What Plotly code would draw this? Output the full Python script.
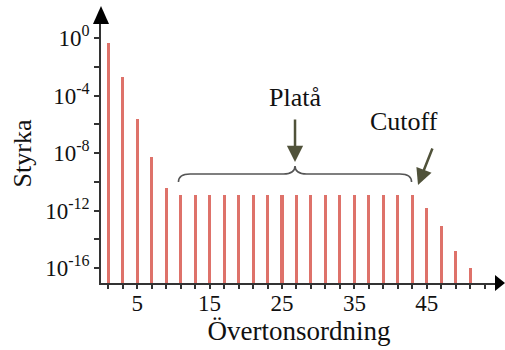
import plotly.graph_objects as go

# Data: harmonic order (odd) and strength
orders = [1, 3, 5, 7, 9, 11, 13, 15, 17, 19, 21, 23, 25, 27, 29, 31, 33, 35, 37, 39, 41, 43, 45, 47, 49, 51]
strength_exp = [-0.35, -2.7, -5.6, -8.3, -10.4,
                -10.9, -10.9, -10.9, -10.9, -10.9, -10.9, -10.9, -10.9, -10.9, -10.9, -10.9,
                -10.9, -10.9, -10.9, -10.9, -10.9, -10.9,
                -11.8, -13.1, -14.8, -16.0]
strength = [10 ** e for e in strength_exp]

x_label_vals = [5, 15, 25, 35, 45]
x_labels = ["5", "15", "25", "35", "45"]
x_minor_vals = list(range(1, 55, 2))
y_label_exps = [0, -4, -8, -12, -16]
y_label_vals = [10 ** e for e in y_label_exps]
y_labels = [f"10<sup>{e}</sup>" for e in y_label_exps]
y_minor_vals = [10 ** e for e in (-2, -6, -10, -14)]

FONT = "Liberation Serif"
W, H = 505, 350
L, R, T, B = 101, 8, 24, 67
PW, PH = W - L - R, H - T - B

def px(x):
    return (x - L) / PW

def py(y):
    return (H - B - y) / PH

fig = go.Figure()
fig.add_trace(go.Bar(
    x=orders, y=strength, width=0.42,
    marker=dict(color="#de726a", line=dict(width=0)),
    showlegend=False, hoverinfo="skip",
))

axis_color = "#333333"
fig.update_layout(
    width=W, height=H,
    margin=dict(l=L, r=R, t=T, b=B),
    paper_bgcolor="white", plot_bgcolor="white",
    font=dict(family=FONT, color="#111111", size=23),
    xaxis=dict(
        range=[0, 54.7], tickmode="array", tickvals=x_label_vals, ticktext=x_labels,
        ticks="outside", ticklen=4, tickwidth=1.5, tickcolor=axis_color,
        minor=dict(tickmode="array", tickvals=x_minor_vals, ticks="outside",
                   ticklen=4, tickwidth=1.5, tickcolor=axis_color, showgrid=False),
        showline=True, linecolor=axis_color, linewidth=1.5,
        showgrid=False, zeroline=False, automargin=False,
        ticklabelstandoff=-5,
        tickfont=dict(size=23, family=FONT),
        title=dict(text="Övertonsordning", font=dict(size=27, family=FONT), standoff=2),
    ),
    yaxis=dict(
        type="log", range=[-17.04, 0.974], tickmode="array",
        tickvals=y_label_vals, ticktext=y_labels,
        ticks="outside", ticklen=5, tickwidth=1.5, tickcolor=axis_color,
        minor=dict(tickmode="array", tickvals=y_minor_vals, ticks="outside",
                   ticklen=5, tickwidth=1.5, tickcolor=axis_color, showgrid=False),
        showline=True, linecolor=axis_color, linewidth=1.5,
        showgrid=False, zeroline=False, automargin=False,
        tickfont=dict(size=23, family=FONT),
        title=dict(text="Styrka", font=dict(size=26, family=FONT), standoff=6),
    ),
    bargap=0,
)

# Axis arrowheads
fig.add_shape(type="path", xref="paper", yref="paper",
              path=f"M {px(101)} {py(6)} L {px(93)} {py(24)} L {px(109)} {py(24)} Z",
              fillcolor="black", line=dict(width=0))
fig.add_shape(type="path", xref="paper", yref="paper",
              path=f"M {px(505)} {py(283)} L {px(495)} {py(275)} L {px(495)} {py(291)} Z",
              fillcolor="black", line=dict(width=0))

# Curly brace over plateau
bx0, bx1 = 10.7, 42.9
bxm = (bx0 + bx1) / 2
yb, yl, yc = py(182), py(174), py(166)
brace = (f"M {bx0} {yb} Q {bx0} {yl} {bx0 + 1.6} {yl} L {bxm - 1.6} {yl} "
         f"Q {bxm} {yl} {bxm} {yc} Q {bxm} {yl} {bxm + 1.6} {yl} "
         f"L {bx1 - 1.6} {yl} Q {bx1} {yl} {bx1} {yb}")
fig.add_shape(type="path", xref="x", yref="paper", path=brace,
              line=dict(color="#555555", width=1.6))

arrow_col = "#50523a"
fig.add_annotation(xref="x", yref="paper", x=bxm, y=py(162), ax=0, ay=-44,
                   text="", showarrow=True, arrowhead=2, arrowsize=1.3,
                   arrowwidth=2.5, arrowcolor=arrow_col)
fig.add_annotation(xref="paper", yref="paper", x=px(418), y=py(185), ax=15, ay=-38,
                   text="", showarrow=True, arrowhead=2, arrowsize=1.3,
                   arrowwidth=2.5, arrowcolor=arrow_col)
fig.add_annotation(xref="x", yref="paper", x=bxm, y=py(81), text="Platå",
                   showarrow=False, font=dict(size=26, family=FONT, color="#111111"))
fig.add_annotation(xref="paper", yref="paper", x=px(440), y=py(121), text="Cutoff",
                   showarrow=False, font=dict(size=26, family=FONT, color="#111111"))

fig.write_html("out.html", config={"displayModeBar": False},
               post_script="document.body.style.margin='0';document.body.style.overflow='hidden';")
